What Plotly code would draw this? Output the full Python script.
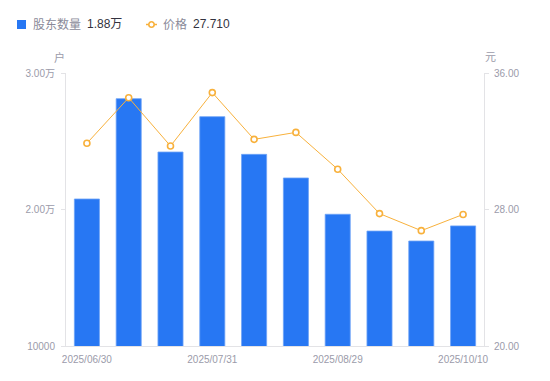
import plotly.graph_objects as go

dates = ["2025/06/30", "2025/07/10", "2025/07/20", "2025/07/31", "2025/08/10",
         "2025/08/20", "2025/08/29", "2025/09/10", "2025/09/30", "2025/10/10"]
holders = [20770, 28120, 24210, 26800, 24040, 22310, 19650, 18420, 17690, 18800]
prices = [31.88, 34.55, 31.72, 34.85, 32.11, 32.52, 30.36, 27.76, 26.76, 27.71]
x_tick_labels = ["2025/06/30", "2025/07/31", "2025/08/29", "2025/10/10"]
left_tick_vals = [10000, 20000, 30000]
left_tick_text = ["10000", "2.00万", "3.00万"]
right_tick_vals = [20, 28, 36]
right_tick_text = ["20.00", "28.00", "36.00"]

BLUE = "#2777F3"
ORANGE = "#F8B13C"
GRAY = "#9B9BAA"
AXIS = "#E3E3E6"
FONT = "Liberation Sans, Arial, Noto Sans CJK SC, sans-serif"

# page offset of the plot div (default body margin)
OFF = 8
PL, PR, PT, PB = 66, 484, 73, 346  # plot area in page pixels

fig = go.Figure()
fig.add_trace(go.Bar(
    x=dates, y=holders, name="股东数量", width=0.6,
    marker=dict(color=BLUE, line=dict(color="#6FA3F6", width=0.8)),
    yaxis="y", showlegend=False,
))
fig.add_trace(go.Scatter(
    x=dates, y=prices, name="价格", mode="lines+markers",
    line=dict(color=ORANGE, width=1),
    marker=dict(symbol="circle", size=6, color="white", line=dict(color=ORANGE, width=1.6)),
    yaxis="y2", showlegend=False,
))

W, H = 550, 381
fig.update_layout(
    width=W, height=H,
    margin=dict(l=PL - OFF, r=W - (PR - OFF), t=PT - OFF, b=H - (PB - OFF), pad=0),
    paper_bgcolor="white", plot_bgcolor="white",
    font=dict(family=FONT, size=10, color=GRAY),
    xaxis=dict(
        type="category", categoryorder="array", categoryarray=dates,
        range=[-0.5, len(dates) - 0.5],
        tickmode="array", tickvals=x_tick_labels, ticktext=x_tick_labels,
        showgrid=False, showline=True, linecolor=AXIS, linewidth=1,
        ticks="", tickfont=dict(size=10, color=GRAY), zeroline=False,
        ticklabelstandoff=4,
    ),
    yaxis=dict(
        range=[10000, 30000], tickmode="array", tickvals=left_tick_vals, ticktext=left_tick_text,
        showgrid=False, showline=True, linecolor=AXIS, linewidth=1,
        ticks="outside", ticklen=4, tickcolor=AXIS, tickfont=dict(size=10, color=GRAY),
        zeroline=False, ticklabelstandoff=4,
    ),
    yaxis2=dict(
        range=[20, 36], overlaying="y", side="right",
        tickmode="array", tickvals=right_tick_vals, ticktext=right_tick_text,
        showgrid=False, showline=True, linecolor=AXIS, linewidth=1,
        ticks="outside", ticklen=4, tickcolor=AXIS, tickfont=dict(size=10, color=GRAY),
        zeroline=False, ticklabelstandoff=3,
    ),
)

pw = PR - PL
ph = PB - PT
def px(x):
    return (x - PL) / pw
def py(y):
    return (PB - y) / ph

# axis unit titles
fig.add_annotation(text="户", xref="paper", yref="paper", x=px(59), y=py(57),
                   showarrow=False, xanchor="center", yanchor="middle",
                   font=dict(size=11, color=GRAY))
fig.add_annotation(text="元", xref="paper", yref="paper", x=px(490), y=py(57),
                   showarrow=False, xanchor="center", yanchor="middle",
                   font=dict(size=11, color=GRAY))

# custom legend
fig.add_shape(type="rect", xref="paper", yref="paper",
              x0=px(17), x1=px(26), y0=py(29), y1=py(20),
              fillcolor=BLUE, line=dict(width=0))
fig.add_annotation(text="股东数量", xref="paper", yref="paper", x=px(31), y=py(24.5),
                   showarrow=False, xanchor="left", yanchor="middle",
                   font=dict(size=12, color="#8A8A99"))
fig.add_annotation(text=f"{holders[-1]/10000:.2f}万", xref="paper", yref="paper", x=px(85), y=py(24.5),
                   showarrow=False, xanchor="left", yanchor="middle",
                   font=dict(size=12, color="#333340"))
fig.add_shape(type="line", xref="paper", yref="paper",
              x0=px(146), x1=px(157), y0=py(24.5), y1=py(24.5),
              line=dict(color=ORANGE, width=1.5))
fig.add_shape(type="circle", xref="paper", yref="paper",
              x0=px(148.8), x1=px(154.2), y0=py(27.2), y1=py(21.8),
              fillcolor="white", line=dict(color=ORANGE, width=1.6))
fig.add_annotation(text="价格", xref="paper", yref="paper", x=px(161), y=py(24.5),
                   showarrow=False, xanchor="left", yanchor="middle",
                   font=dict(size=12, color="#8A8A99"))
fig.add_annotation(text=f"{prices[-1]:.3f}", xref="paper", yref="paper", x=px(191), y=py(24.5),
                   showarrow=False, xanchor="left", yanchor="middle",
                   font=dict(size=12, color="#333340"))

fig.write_html("out.html")
